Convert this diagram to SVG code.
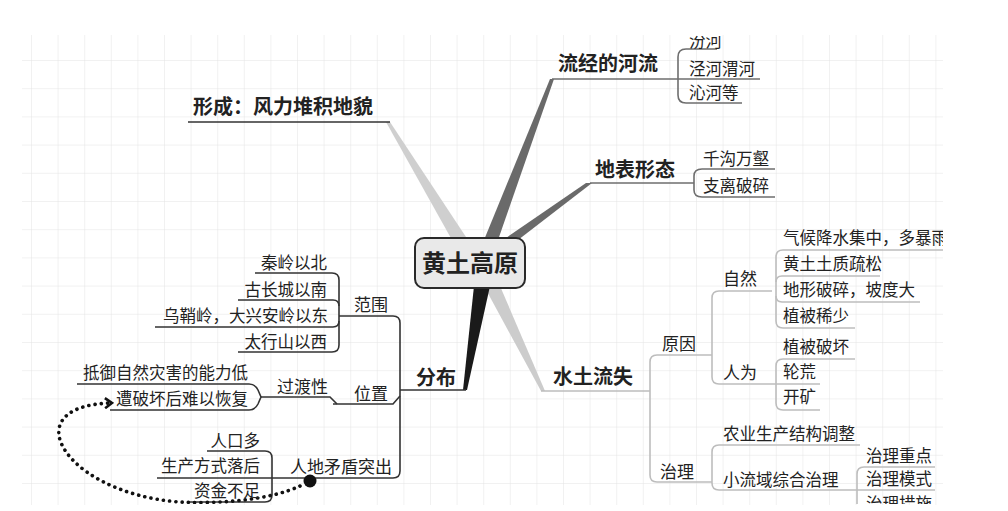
<svg xmlns="http://www.w3.org/2000/svg" width="1008" height="511" viewBox="0 0 1008 511">
<style>
text{font-family:"Noto Sans CJK SC","Noto Sans",sans-serif;fill:#222}
.main{font-size:20px;font-weight:700}
.mid{font-size:17px}
.leaf{font-size:16.5px}
.end{text-anchor:end}
.dk{fill:none;stroke:#333;stroke-width:1.6}
.md{fill:none;stroke:#6e6e6e;stroke-width:1.6}
.lt{fill:none;stroke:#bdbdbd;stroke-width:1.6}
</style>
<defs>
<pattern id="grid" patternUnits="userSpaceOnUse" x="31" y="60" width="26.6" height="28.2">
<path d="M0 0H26.6M0 0V28.2" fill="none" stroke="#e3e3e3" stroke-width="1"/>
</pattern>
<clipPath id="paper"><rect x="22" y="36" width="921" height="468"/></clipPath>
<marker id="chev" viewBox="0 0 10 12" refX="8" refY="6" markerWidth="10" markerHeight="12" markerUnits="userSpaceOnUse" orient="auto">
<path d="M1 1L8 6L1 11" fill="none" stroke="#111" stroke-width="2.6"/>
</marker>
</defs>
<rect width="1008" height="511" fill="#fff"/>
<rect x="22" y="35" width="921" height="470" fill="url(#grid)"/>
<g clip-path="url(#paper)">
<g id="connectors">
<polygon points="386,122 390,122 468,240 452,240" fill="#cfcfcf"/>
<polygon points="484,286 500,286 545,391 541,391" fill="#cccccc"/>
<polygon points="550,79 554,79 498,240 484,240" fill="#6a6a6a"/>
<polygon points="586,183 592,183 518,240 503,240" fill="#6a6a6a"/>
<polygon points="474,286 490,286 467,390 463,390" fill="#1a1a1a"/>
<path class="dk" d="M188 122H390"/>
<path class="md" d="M552 79H760"/>
<path class="md" d="M717 49H686Q678 49 678 57V95Q678 103 686 103H742"/>
<path class="md" d="M590 183H694"/>
<path class="md" d="M775 169H702Q694 169 694 176V190Q694 197 702 197H775"/>
<path class="dk" d="M400 390H466"/>
<path class="dk" d="M339 316H393Q400 316 400 323V471Q400 478 393 478H157"/>
<path class="dk" d="M255 273H332Q339 273 339 280V345Q339 352 332 352H238"/>
<path class="dk" d="M238 300H333Q339 300 339 306M155 327H333Q339 327 339 321"/>
<path class="dk" d="M333 404H393L400 396"/>
<path class="dk" d="M261 397H330L337 404"/>
<path class="dk" d="M77 384H249Q255 384 258 390L261 397L258 404Q255 410 249 410H110"/>
<path class="dk" d="M207 451H265Q272 451 272 458V495Q272 502 265 502H188"/>
<circle cx="310" cy="481" r="6.5" fill="#111"/>
<path d="M300 486C270 500 220 504 180 502C120 498 70 470 60 440C54 420 70 404 112 403" fill="none" stroke="#111" stroke-width="3.6" stroke-linecap="round" stroke-dasharray="0.1 6.2" marker-end="url(#chev)"/>
<path class="lt" d="M541 391H650"/>
<path class="lt" d="M712 355H657Q650 355 650 362V475Q650 482 657 482H712"/>
<path class="lt" d="M772 291H719Q712 291 712 298V377Q712 384 719 384H820"/>
<path class="lt" d="M943 250H783Q776 250 776 257V321Q776 328 783 328H855"/>
<path class="lt" d="M880 276H782Q776 276 776 282M920 302H782Q776 302 776 296"/>
<path class="lt" d="M855 359H783Q776 359 776 366V403Q776 410 783 410H820"/>
<path class="lt" d="M860 445H719Q712 445 712 452V483Q712 490 719 490H935"/>
<path class="lt" d="M935 467H864Q857 467 857 474V520"/>
</g>
<g id="n-center">
<rect x="415" y="238" width="110" height="50" rx="9" fill="#e9e9e9" stroke="#2a2a2a" stroke-width="2"/>
<text x="470" y="272" text-anchor="middle" style="font-size:24px;font-weight:700">黄土高原</text>
</g>
<g id="n-xingcheng"><text class="main" x="193" y="114">形成：风力堆积地貌</text></g>
<g id="n-heliu"><text class="main" x="558" y="71">流经的河流</text></g>
<g id="n-fenhe"><text class="leaf" x="689" y="47">汾河</text></g>
<g id="n-jinghe"><text class="leaf" x="689" y="75">泾河渭河</text></g>
<g id="n-qinhe"><text class="leaf" x="689" y="99">沁河等</text></g>
<g id="n-dibiao"><text class="main" x="595" y="177">地表形态</text></g>
<g id="n-qiangou"><text class="leaf" x="703" y="165">千沟万壑</text></g>
<g id="n-zhili"><text class="leaf" x="703" y="192">支离破碎</text></g>
<g id="n-fenbu"><text class="main" x="416" y="385">分布</text></g>
<g id="n-fanwei"><text class="mid" x="354" y="311">范围</text></g>
<g id="n-qinling"><text class="leaf end" x="327" y="269">秦岭以北</text></g>
<g id="n-changcheng"><text class="leaf end" x="327" y="296">古长城以南</text></g>
<g id="n-wuqiao"><text class="leaf end" x="328" y="322">乌鞘岭，大兴安岭以东</text></g>
<g id="n-taihang"><text class="leaf end" x="327" y="348">太行山以西</text></g>
<g id="n-weizhi"><text class="mid" x="354" y="400">位置</text></g>
<g id="n-guodu"><text class="mid" x="277" y="393">过渡性</text></g>
<g id="n-diyu"><text class="leaf end" x="248" y="379">抵御自然灾害的能力低</text></g>
<g id="n-zaopo"><text class="leaf end" x="248" y="405">遭破坏后难以恢复</text></g>
<g id="n-rendi"><text class="mid" x="290" y="473">人地矛盾突出</text></g>
<g id="n-renkou"><text class="leaf end" x="260" y="447">人口多</text></g>
<g id="n-shengchan"><text class="leaf end" x="260" y="472">生产方式落后</text></g>
<g id="n-zijin"><text class="leaf end" x="260" y="497">资金不足</text></g>
<g id="n-shuitu"><text class="main" x="553" y="384">水土流失</text></g>
<g id="n-yuanyin"><text class="mid" x="662" y="350">原因</text></g>
<g id="n-zhilizz"><text class="mid" x="660" y="478">治理</text></g>
<g id="n-ziran"><text class="mid" x="723" y="285">自然</text></g>
<g id="n-renwei"><text class="mid" x="723" y="379">人为</text></g>
<g id="n-qihou"><text class="leaf" x="783" y="244">气候降水集中，多暴雨</text></g>
<g id="n-huangtu"><text class="leaf" x="783" y="270">黄土土质疏松</text></g>
<g id="n-dixing"><text class="leaf" x="783" y="296">地形破碎，坡度大</text></g>
<g id="n-zhibeixs"><text class="leaf" x="783" y="322">植被稀少</text></g>
<g id="n-zhibeipo"><text class="leaf" x="783" y="353">植被破坏</text></g>
<g id="n-lunhuang"><text class="leaf" x="783" y="378">轮荒</text></g>
<g id="n-kaikuang"><text class="leaf" x="783" y="403">开矿</text></g>
<g id="n-nongye"><text class="leaf" x="723" y="440">农业生产结构调整</text></g>
<g id="n-xiaoliuyu"><text class="leaf" x="723" y="486">小流域综合治理</text></g>
<g id="n-zhongdian"><text class="leaf" x="866" y="462">治理重点</text></g>
<g id="n-moshi"><text class="leaf" x="866" y="485">治理模式</text></g>
<g id="n-cuoshi"><text class="leaf" x="866" y="510">治理措施</text></g>
</g>
</svg>
